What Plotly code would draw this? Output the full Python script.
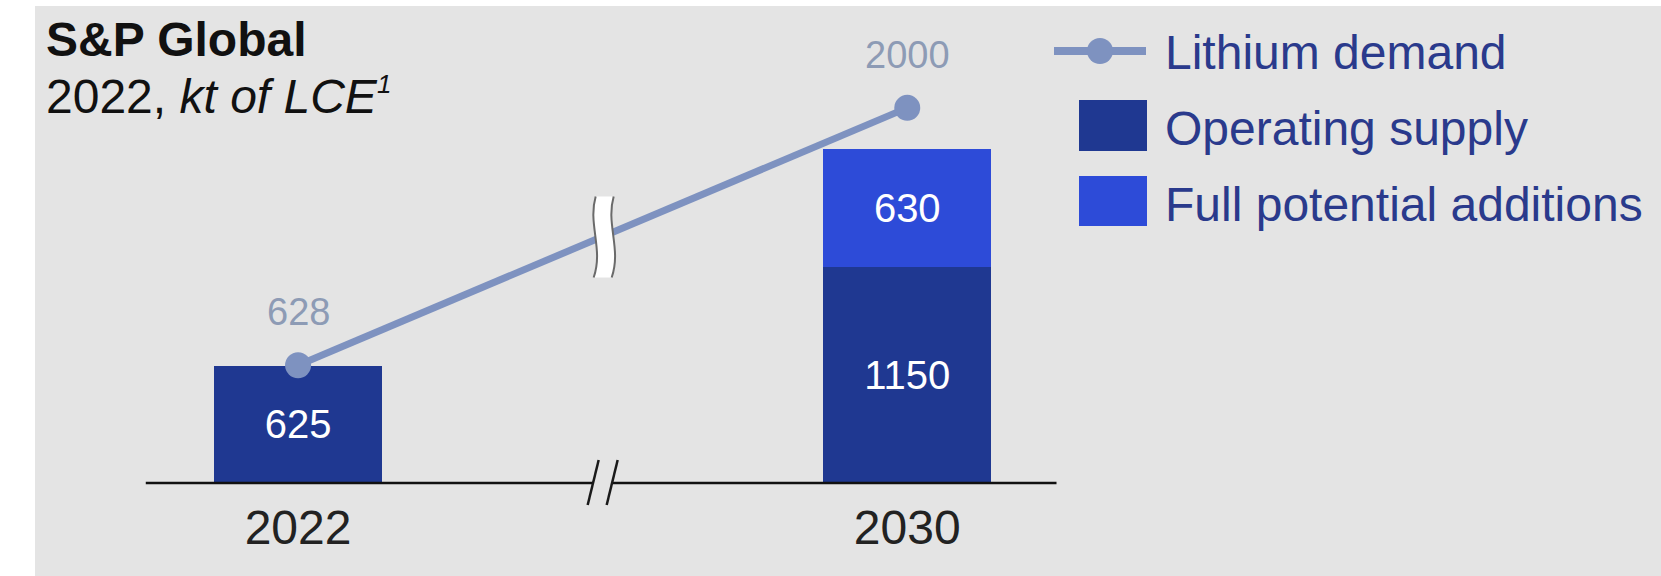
import plotly.graph_objects as go

# Data (kt of LCE)
years = ["2022", "2030"]
x_pos = [0, 1]
operating_supply = [625, 1150]
full_potential_additions = [None, 630]
lithium_demand = [628, 2000]

W, H = 1661, 576
PLOT_BOTTOM = 483          # pixel row of the baseline
Y_MAX = 2575               # top of the value axis
X_RANGE = [-0.4893, 2.2373]

FONT = "Liberation Sans, Arial, sans-serif"
C_OPER = "#1f3891"
C_ADD = "#2d4bd8"
C_DEMAND = "#7e92c0"
C_DEMAND_LBL = "#8d9bb5"
C_LEGEND = "#2a3a8c"
BG = "#e4e4e4"


def px(x):
    return x / W


def py(y):
    return (PLOT_BOTTOM - y) / PLOT_BOTTOM


fig = go.Figure()

fig.add_trace(go.Bar(
    x=x_pos, y=operating_supply, width=0.276,
    marker=dict(color=C_OPER, line_width=0),
    texttemplate="%{y}", textposition="inside",
    insidetextanchor="middle", textangle=0,
    textfont=dict(size=40, color="white", family=FONT),
    name="Operating supply", showlegend=False, hoverinfo="skip",
))
fig.add_trace(go.Bar(
    x=x_pos, y=full_potential_additions, width=0.276,
    marker=dict(color=C_ADD, line_width=0),
    texttemplate="%{y}", textposition="inside",
    insidetextanchor="middle", textangle=0,
    textfont=dict(size=40, color="white", family=FONT),
    name="Full potential additions", showlegend=False, hoverinfo="skip",
))
fig.add_trace(go.Scatter(
    x=x_pos, y=lithium_demand, mode="lines+markers",
    line=dict(color=C_DEMAND, width=7),
    marker=dict(color=C_DEMAND, size=26),
    name="Lithium demand", showlegend=False, hoverinfo="skip",
))

annotations = []
for xv, v in zip(x_pos, lithium_demand):
    annotations.append(dict(
        x=xv, y=v, xref="x", yref="y", text=str(v), showarrow=False,
        yshift=53, font=dict(size=38, color=C_DEMAND_LBL, family=FONT),
    ))

# Title block
annotations.append(dict(
    x=px(44), y=py(39), xref="paper", yref="paper", xanchor="left",
    yanchor="middle", text="<b>S&P Global</b>", showarrow=False,
    font=dict(size=48, color="#111111", family=FONT),
))
annotations.append(dict(
    x=px(44), y=py(96), xref="paper", yref="paper", xanchor="left",
    yanchor="middle",
    text="2022, <i>kt of LCE</i><sup><i><span style='font-size:26px'>1</span></i></sup>",
    showarrow=False, font=dict(size=48, color="#111111", family=FONT),
))

# Legend
legend_items = ["Lithium demand", "Operating supply", "Full potential additions"]
legend_rows = [53, 129, 204]
for label, yc in zip(legend_items, legend_rows):
    annotations.append(dict(
        x=px(1163), y=py(yc), xref="paper", yref="paper", xanchor="left",
        yanchor="middle", text=label, showarrow=False,
        font=dict(size=48, color=C_LEGEND, family=FONT),
    ))

shapes = []
# background: white strip at left and top, gray panel elsewhere
shapes.append(dict(type="rect", xref="paper", yref="paper",
                   x0=px(0), x1=px(35), y0=py(0), y1=py(H),
                   fillcolor="white", line_width=0, layer="below"))
shapes.append(dict(type="rect", xref="paper", yref="paper",
                   x0=px(0), x1=px(W), y0=py(0), y1=py(6),
                   fillcolor="white", line_width=0, layer="below"))

# legend swatches
shapes.append(dict(type="line", xref="paper", yref="paper",
                   x0=px(1054), x1=px(1146), y0=py(51), y1=py(51),
                   line=dict(color=C_DEMAND, width=8)))
shapes.append(dict(type="circle", xref="paper", yref="paper",
                   x0=px(1087), x1=px(1113), y0=py(38), y1=py(64),
                   fillcolor=C_DEMAND, line_width=0))
shapes.append(dict(type="rect", xref="paper", yref="paper",
                   x0=px(1079), x1=px(1147), y0=py(100), y1=py(151),
                   fillcolor=C_OPER, line_width=0))
shapes.append(dict(type="rect", xref="paper", yref="paper",
                   x0=px(1079), x1=px(1147), y0=py(176), y1=py(226),
                   fillcolor=C_ADD, line_width=0))

# baseline (value 0 sits on the bottom edge of the plot area)
shapes.append(dict(type="line", xref="x", yref="paper",
                   x0=x_pos[0] - 0.25, x1=x_pos[-1] + 0.245, y0=0, y1=0,
                   line=dict(color="#111111", width=2.5), layer="above"))

# axis break on the baseline (//)
mid_x = (x_pos[0] + x_pos[1]) / 2
slash_common = dict(xref="x", yref="paper", xsizemode="pixel", ysizemode="pixel",
                    xanchor=mid_x, yanchor=0, layer="above")
shapes.append(dict(type="path", path="M -4,23 L -15,-22 L 4,-22 L 15,23 Z",
                   fillcolor=BG, line_width=0, **slash_common))
shapes.append(dict(type="path", path="M -4,23 L -15,-22",
                   line=dict(color="#1a1a1a", width=2.5), **slash_common))
shapes.append(dict(type="path", path="M 15,23 L 4,-22",
                   line=dict(color="#1a1a1a", width=2.5), **slash_common))

# wavy break on the demand line
mid_y = (lithium_demand[0] + lithium_demand[1]) / 2
wave_common = dict(xref="x", yref="y", xsizemode="pixel", ysizemode="pixel",
                   xanchor=mid_x, yanchor=mid_y, layer="above")
shapes.append(dict(type="path",
                   path="M -7,40 C -15,12 1,-12 -9,-41 L 9,-41 C 19,-12 3,12 11,40 Z",
                   fillcolor="white", line_width=0, **wave_common))
shapes.append(dict(type="path", path="M -7,40 C -15,12 1,-12 -9,-41",
                   line=dict(color="#6a6a6a", width=2), **wave_common))
shapes.append(dict(type="path", path="M 11,40 C 3,12 19,-12 9,-41",
                   line=dict(color="#6a6a6a", width=2), **wave_common))

fig.update_layout(
    width=W, height=H,
    margin=dict(l=0, r=0, t=0, b=H - PLOT_BOTTOM, pad=0),
    paper_bgcolor=BG, plot_bgcolor="rgba(0,0,0,0)",
    barmode="stack", showlegend=False,
    font=dict(family=FONT),
    xaxis=dict(range=X_RANGE, tickvals=x_pos, ticktext=years,
               showgrid=False, zeroline=False, showline=False, ticks="",
               ticklabelstandoff=12,
               tickfont=dict(size=48, color="#222222", family=FONT),
               fixedrange=True),
    yaxis=dict(range=[0, Y_MAX], showgrid=False, zeroline=False,
               showline=False, showticklabels=False, ticks="",
               fixedrange=True),
    annotations=annotations, shapes=shapes,
)

fig.write_html("out.html")
